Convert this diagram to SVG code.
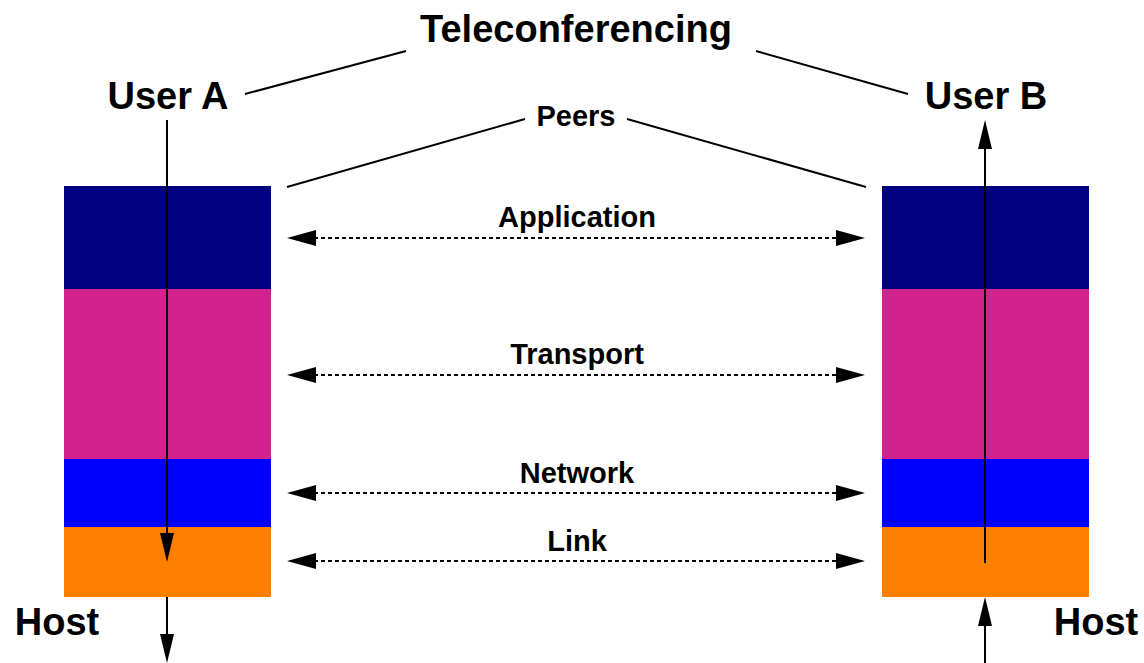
<svg xmlns="http://www.w3.org/2000/svg" width="1144" height="663" viewBox="0 0 1144 663">
  <style>
    text { font-family: "Liberation Sans", Arial, sans-serif; font-weight: bold; fill: #000; text-anchor: middle; }
    .big { font-size: 38px; }
    .mid { font-size: 29px; }
    .line { stroke: #000; stroke-width: 2; fill: none; }
    .dash { stroke: #000; stroke-width: 2; fill: none; stroke-dasharray: 4 3; }
    .head { fill: #000; }
  </style>
  <rect width="1144" height="663" fill="#fff"/>

  <!-- Protocol stack of host A -->
  <g id="stack-a">
    <rect x="64" y="186" width="207" height="103" fill="#000080"/>
    <rect x="64" y="289" width="207" height="170" fill="#d0238e"/>
    <rect x="64" y="459" width="207" height="68" fill="#0000ff"/>
    <rect x="64" y="527" width="207" height="70" fill="#ff8000"/>
  </g>

  <!-- Protocol stack of host B -->
  <g id="stack-b">
    <rect x="882" y="186" width="207" height="103" fill="#000080"/>
    <rect x="882" y="289" width="207" height="170" fill="#d0238e"/>
    <rect x="882" y="459" width="207" height="68" fill="#0000ff"/>
    <rect x="882" y="527" width="207" height="70" fill="#ff8000"/>
  </g>

  <!-- Labels -->
  <g id="label-teleconferencing"><text class="big" x="576" y="42">Teleconferencing</text></g>
  <g id="label-user-a"><text class="big" x="168" y="109">User A</text></g>
  <g id="label-user-b"><text class="big" x="986" y="109">User B</text></g>
  <g id="label-peers"><text class="mid" x="576" y="126">Peers</text></g>
  <g id="label-host-a"><text class="big" x="57" y="635">Host</text></g>
  <g id="label-host-b"><text class="big" x="1096" y="635">Host</text></g>
  <g id="label-application"><text class="mid" x="577" y="227">Application</text></g>
  <g id="label-transport"><text class="mid" x="577" y="364">Transport</text></g>
  <g id="label-network"><text class="mid" x="577" y="483">Network</text></g>
  <g id="label-link"><text class="mid" x="577" y="551">Link</text></g>

  <!-- Connectors -->
  <g id="connectors">
    <!-- Teleconferencing to users -->
    <line class="line" x1="245" y1="94" x2="406" y2="51"/>
    <line class="line" x1="756" y1="51" x2="908" y2="94"/>
    <!-- Peers to stacks -->
    <line class="line" x1="287" y1="187" x2="525" y2="119"/>
    <line class="line" x1="627" y1="119" x2="866" y2="187"/>

    <!-- Data flow down through host A -->
    <line class="line" x1="167" y1="120" x2="167" y2="536"/>
    <polygon class="head" points="160,533 174,533 167,562"/>
    <line class="line" x1="167" y1="597" x2="167" y2="636"/>
    <polygon class="head" points="160,634 174,634 167,663"/>

    <!-- Data flow up through host B -->
    <line class="line" x1="985" y1="563" x2="985" y2="146"/>
    <polygon class="head" points="978,149 992,149 985,120"/>
    <line class="line" x1="985" y1="663" x2="985" y2="624"/>
    <polygon class="head" points="978,626 992,626 985,597"/>

    <!-- Peer-to-peer layer exchanges -->
    <line class="dash" x1="314" y1="238" x2="838" y2="238"/>
    <polygon class="head" points="287,238 316,230 316,246"/>
    <polygon class="head" points="865,238 836,230 836,246"/>

    <line class="dash" x1="314" y1="375" x2="838" y2="375"/>
    <polygon class="head" points="287,375 316,367 316,383"/>
    <polygon class="head" points="865,375 836,367 836,383"/>

    <line class="dash" x1="314" y1="493" x2="838" y2="493"/>
    <polygon class="head" points="287,493 316,485 316,501"/>
    <polygon class="head" points="865,493 836,485 836,501"/>

    <line class="dash" x1="314" y1="561" x2="838" y2="561"/>
    <polygon class="head" points="287,561 316,553 316,569"/>
    <polygon class="head" points="865,561 836,553 836,569"/>
  </g>
</svg>
